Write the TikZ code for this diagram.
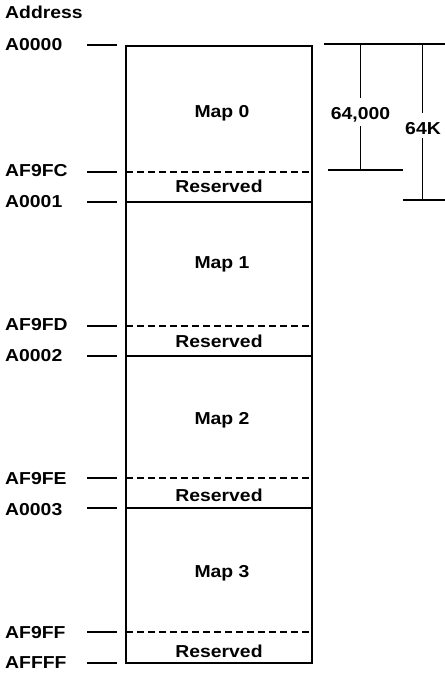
\documentclass[tikz,border=0pt]{standalone}
\usepackage{fontspec}
\setmainfont{Liberation Sans}[FakeStretch=1.12]
\begin{document}
\begin{tikzpicture}[x=1pt,y=-1pt,
  lab/.style={inner sep=0pt,font=\fontsize{17.3}{20}\selectfont\bfseries},
  addr/.style={lab,anchor=base west},
  mid/.style={lab,anchor=base},
  boxline/.style={line width=1.6pt},
  divline/.style={line width=1.6pt},
  resline/.style={line width=1.4pt,dash pattern=on 7pt off 4pt},
  tick/.style={line width=1.1pt},
  dim/.style={line width=1.1pt}]
\useasboundingbox (0,0) rectangle (445,673);
% box
\coordinate (tl) at (126,46);
\coordinate (br) at (312,663);
\draw[boxline] (tl) rectangle (br);
% dividers
\foreach \n/\y in {1/202,2/356,3/508}{
  \coordinate (sL\n) at (126,\y); \coordinate (sR\n) at (312,\y);
  \draw[divline] (sL\n) -- (sR\n);
}
\foreach \n/\y in {0/172,1/326,2/478,3/632}{
  \coordinate (dL\n) at (126,\y); \coordinate (dR\n) at (312,\y);
  \draw[resline] (dL\n) -- (dR\n);
}
% ticks
\foreach \n/\y in {a/45,b/172,c/202,d/326,e/356,f/478,g/508,h/632,i/663}{
  \coordinate (t\n1) at (87,\y); \coordinate (t\n2) at (117,\y);
  \draw[tick] (t\n1) -- (t\n2);
}
% address labels
\node[addr] (hdr) at (5,18.5) {Address};
\node[addr] (la) at (5,50) {A0000};
\node[addr] (lb) at (5,176) {AF9FC};
\node[addr] (lc) at (5,207) {A0001};
\node[addr] (ld) at (5,330) {AF9FD};
\node[addr] (le) at (5,361) {A0002};
\node[addr] (lf) at (5,484) {AF9FE};
\node[addr] (lg) at (5,515) {A0003};
\node[addr] (lh) at (5,638) {AF9FF};
\node[addr] (li) at (5,668) {AFFFF};
% map labels
\node[mid] (m0) at (222,117) {Map 0};
\node[mid] (m1) at (222,268) {Map 1};
\node[mid] (m2) at (222,424) {Map 2};
\node[mid] (m3) at (222,577) {Map 3};
\node[mid] (r0) at (219,192) {Reserved};
\node[mid] (r1) at (219,347) {Reserved};
\node[mid] (r2) at (219,501) {Reserved};
\node[mid] (r3) at (219,657) {Reserved};
% dimensions
\coordinate (dt1) at (324,44); \coordinate (dt2) at (445,44);
\coordinate (db1) at (328,170); \coordinate (db2) at (403,170);
\coordinate (kb1) at (403,200); \coordinate (kb2) at (445,200);
\draw[dim] (dt1) -- (dt2);
\draw[dim] (db1) -- (db2);
\draw[dim] (kb1) -- (kb2);
\node[mid] (n64) at (360.5,119.3) {64,000};
\node[mid] (n64k) at (423,134) {64K};
\coordinate (v1t) at (360.5,44); \coordinate (v1b) at (360.5,170);
\coordinate (v2t) at (422.5,44); \coordinate (v2b) at (422.5,200);
\draw[dim] (v1t) -- (360.5,98);
\draw[dim] (360.5,126) -- (v1b);
\draw[dim] (v2t) -- (422.5,113);
\draw[dim] (422.5,138) -- (v2b);
\end{tikzpicture}
\end{document}
